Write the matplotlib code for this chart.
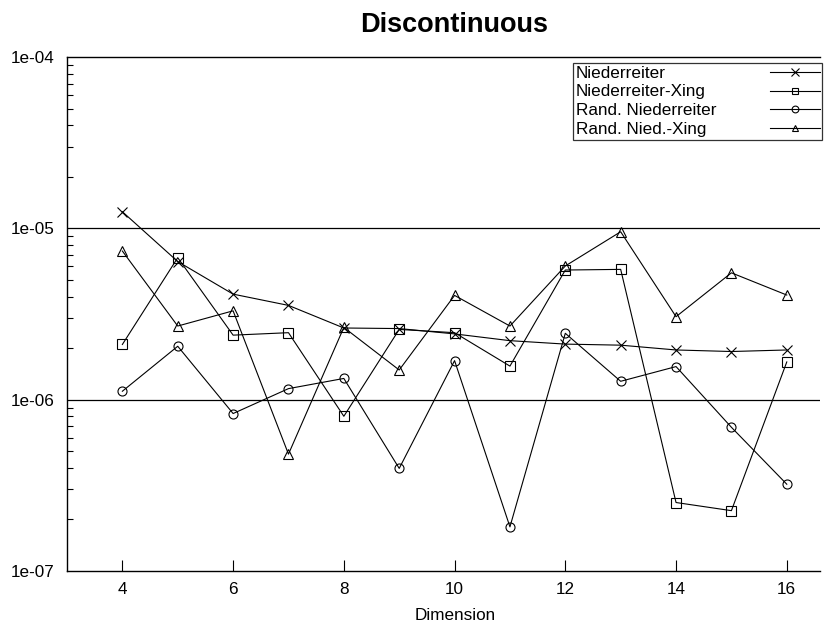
import numpy as np
import matplotlib
matplotlib.use("Agg")
import matplotlib.pyplot as plt
from matplotlib.ticker import LogLocator, NullFormatter, FixedLocator

plt.rcParams['font.family'] = ['Liberation Sans', 'DejaVu Sans']

dims = [4, 5, 6, 7, 8, 9, 10, 11, 12, 13, 14, 15, 16]
nied = [1.25e-5, 6.4e-6, 4.13e-6, 3.55e-6, 2.62e-6, 2.6e-6, 2.42e-6, 2.21e-6,
        2.11e-6, 2.08e-6, 1.95e-6, 1.91e-6, 1.95e-6]
nied_xing = [2.10e-6, 6.74e-6, 2.38e-6, 2.46e-6, 8.0e-7, 2.57e-6, 2.46e-6, 1.57e-6,
             5.71e-6, 5.76e-6, 2.51e-7, 2.25e-7, 1.66e-6]
rand_nied = [1.12e-6, 2.05e-6, 8.3e-7, 1.16e-6, 1.33e-6, 3.97e-7, 1.69e-6, 1.81e-7,
             2.44e-6, 1.28e-6, 1.56e-6, 6.9e-7, 3.21e-7]
rand_xing = [7.37e-6, 2.69e-6, 3.30e-6, 4.81e-7, 2.64e-6, 1.49e-6, 4.06e-6, 2.69e-6,
             6.03e-6, 9.55e-6, 3.05e-6, 5.5e-6, 4.08e-6]

labels = ["Niederreiter", "Niederreiter-Xing", "Rand. Niederreiter", "Rand. Nied.-Xing"]
markers = ["x", "s", "o", "^"]
msizes = [7.5, 6.5, 6.5, 6.5]
xticks = [4, 6, 8, 10, 12, 14, 16]
yticks = [1e-7, 1e-6, 1e-5, 1e-4]
ytick_labels = ["1e-07", "1e-06", "1e-05", "1e-04"]

fs = 12.3

fig = plt.figure(figsize=(8.33, 6.26), dpi=100)
ax = fig.add_axes([67 / 833, 1 - 571 / 626, (820 - 67) / 833, (571 - 57) / 626])

for ys, lab, m, ms in zip([nied, nied_xing, rand_nied, rand_xing], labels, markers, msizes):
    ax.plot(dims, ys, color="black", lw=0.8, marker=m, ms=ms,
            mfc="none", mec="black", mew=0.8, label=lab)

ax.set_yscale("log")
ax.set_ylim(1e-7, 1e-4)
ax.set_xlim(3, 16.6)

ax.yaxis.set_major_locator(FixedLocator(yticks))
ax.set_yticklabels(ytick_labels)
ax.yaxis.set_minor_locator(LogLocator(base=10, subs=np.arange(2, 10)))
ax.yaxis.set_minor_formatter(NullFormatter())
ax.set_xticks(xticks)

ax.tick_params(axis="x", which="major", direction="in", length=8, width=0.8,
               labelsize=fs, pad=8, top=False)
ax.tick_params(axis="y", which="major", direction="in", length=0,
               labelsize=fs, pad=9, right=False)
ax.tick_params(axis="y", which="minor", direction="in", length=4, width=0.8, right=False)

for y in [1e-6, 1e-5]:
    ax.axhline(y, color="black", lw=0.9, zorder=0.5)

ax.spines["right"].set_visible(False)
for s in ["left", "bottom", "top"]:
    ax.spines[s].set_linewidth(1.0)

ax.set_xlabel("Dimension", fontsize=fs, va="center")
ax.xaxis.set_label_coords((455 - 67) / 753, -44 / 514)
fig.text(454 / 833, 1 - 25 / 626, "Discontinuous", ha="center", va="center",
         fontsize=19.5, fontweight="bold")

leg = ax.legend(loc="upper right", bbox_to_anchor=(1.003, 0.988), markerfirst=False,
                fontsize=fs, frameon=True, fancybox=False, edgecolor="#333333",
                framealpha=1, borderpad=0.15, labelspacing=0.22, handlelength=2.9,
                handletextpad=3.15, borderaxespad=0, markerscale=0.75)
leg.get_frame().set_linewidth(0.9)

# left-align legend texts while keeping the samples in one column on the right
fig.canvas.draw()
r = fig.canvas.get_renderer()
col = leg._legend_handle_box.get_children()[0]
col.align = "left"
widths = [t.get_window_extent(r).width for t in leg.get_texts()]
wmax = max(widths)
for row, w in zip(col.get_children(), widths):
    row.sep = leg.handletextpad * fs + (wmax - w) * 72 / fig.dpi

fig.savefig("out.png", dpi=100)
